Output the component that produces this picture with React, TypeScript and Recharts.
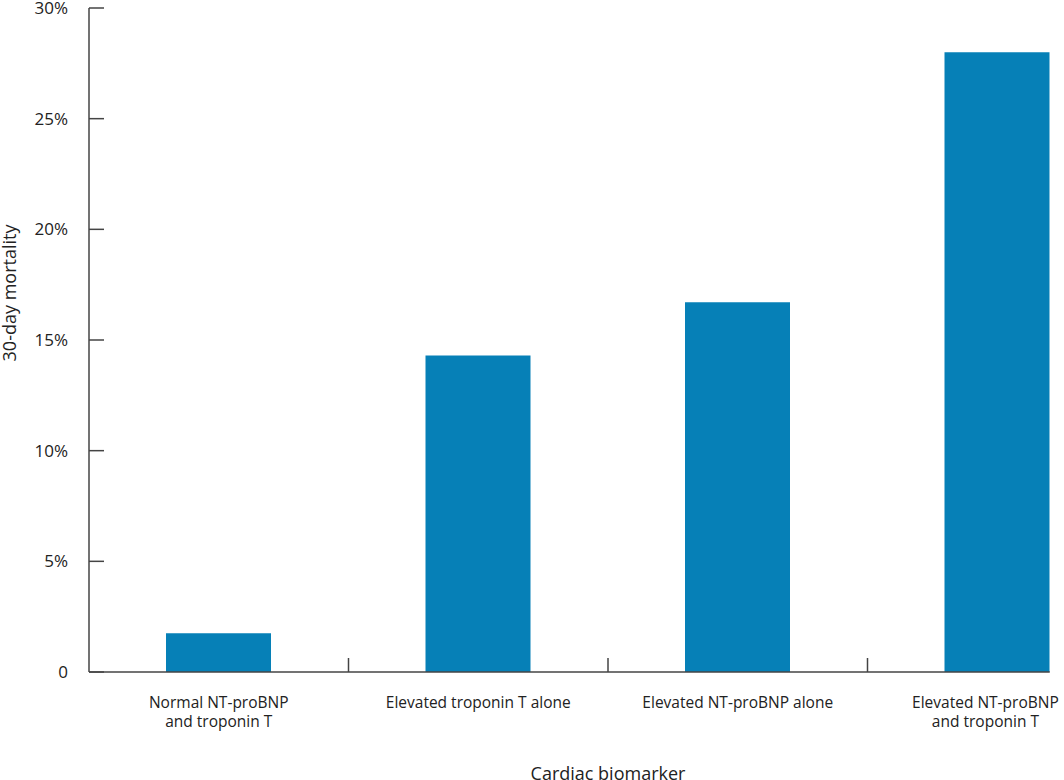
import { BarChart, Bar, XAxis, YAxis, ReferenceLine } from "recharts";

// 30-day mortality by cardiac biomarker group (values in %)
const categories: string[][] = [
  ["Normal NT-proBNP", "and troponin T"],
  ["Elevated troponin T alone"],
  ["Elevated NT-proBNP alone"],
  ["Elevated NT-proBNP", "and troponin T"],
];
const mortality = [1.75, 14.3, 16.7, 28.0];
const yTicks = [0, 5, 10, 15, 20, 25, 30];
const boundaryTicks = [1, 2, 3];

const data = categories.map((lines, i) => ({ pos: i + 0.5, name: lines.join(" "), mortality: mortality[i] }));
const xTicks = [...data.map((d) => d.pos), ...boundaryTicks].sort((a, b) => a - b);

const FONT = "'Open Sans', sans-serif";
const TEXT = "#222";
const AXIS = "#444";
const BAR = "#0680b7";
const VISIBLE_W = 1064;
const CHART_W = 1130;
const Y_W = 89;
const BAR_SIZE = 105;
// x axis stops at the right edge of the last bar, like the source figure
const unitPx = (CHART_W - 3 - Y_W) / 4;
const axisEnd = data[data.length - 1].pos + BAR_SIZE / 2 / unitPx;

function XTick({ x, y, payload }: any) {
  const v = payload.value as number;
  if (Number.isInteger(v)) {
    return <line x1={x} x2={x} y1={y} y2={y - 14} stroke={AXIS} strokeWidth={1.5} />;
  }
  const lines = categories[Math.floor(v)];
  // the last label would run past the visible edge, nudge it back inside
  const approxHalf = Math.max(...lines.map((l) => l.length)) * 4.2;
  const cx = Math.min(x, VISIBLE_W - 3 - approxHalf);
  return (
    <text x={cx} y={y + 36} textAnchor="middle" fill={TEXT} fontSize={15.5} fontFamily={FONT}>
      {lines.map((l, i) => (
        <tspan key={i} x={cx} dy={i === 0 ? 0 : 19}>{l}</tspan>
      ))}
    </text>
  );
}

export default function App() {
  return (
    <div style={{ position: "absolute", left: 0, top: 0, width: VISIBLE_W, height: 780, overflow: "hidden", background: "#fff" }}>
      <BarChart width={CHART_W} height={800} data={data} margin={{ top: 8, right: 3, bottom: 18, left: 0 }}>
        <YAxis
          domain={[0, 30]}
          ticks={yTicks}
          interval={0}
          tickFormatter={(v) => (v === 0 ? "0" : `${v}%`)}
          tick={{ fontSize: 17, fill: TEXT, fontFamily: FONT }}
          tickSize={-15}
          tickMargin={36}
          tickLine={{ stroke: AXIS, strokeWidth: 1.5 }}
          axisLine={{ stroke: AXIS, strokeWidth: 1.5 }}
          width={Y_W}
          label={{
            content: ({ viewBox }: any) => {
              const cx = viewBox.x + 16;
              const cy = viewBox.y + viewBox.height / 2 - 47;
              return (
                <text x={cx} y={cy} transform={`rotate(-90, ${cx}, ${cy})`} textAnchor="middle"
                  fill={TEXT} fontSize={18} fontFamily={FONT}>
                  30-day mortality
                </text>
              );
            },
          }}
        />
        <XAxis
          dataKey="pos"
          type="number"
          domain={[0, 4]}
          ticks={xTicks}
          interval={0}
          tick={<XTick />}
          tickLine={false}
          tickSize={0}
          tickMargin={0}
          axisLine={false}
          height={110}
          label={{
            content: ({ viewBox }: any) => (
              <text x={viewBox.x + viewBox.width / 2} y={viewBox.y + 108} textAnchor="middle"
                fill={TEXT} fontSize={18} fontFamily={FONT}>
                Cardiac biomarker
              </text>
            ),
          }}
        />
        <ReferenceLine
          segment={[{ x: 0, y: 0 }, { x: axisEnd, y: 0 }]}
          stroke={AXIS}
          strokeWidth={1.5}
        />
        <Bar dataKey="mortality" fill={BAR} barSize={BAR_SIZE} isAnimationActive={false} />
      </BarChart>
    </div>
  );
}
